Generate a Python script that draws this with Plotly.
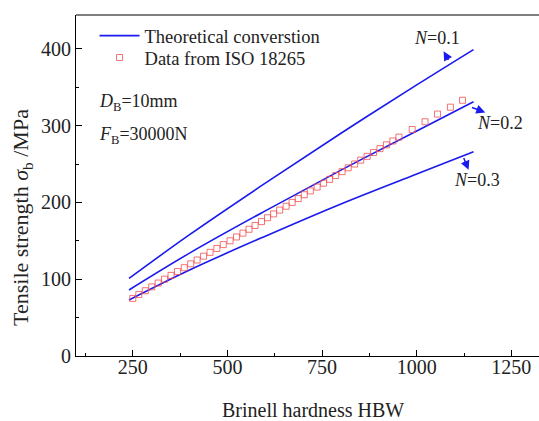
import plotly.graph_objects as go

# Theoretical conversion curves
theo_x = [240, 400, 600, 800, 1000, 1150]
n01_y = [101, 158, 225, 290, 353, 399]
n02_y = [86, 134, 189, 242, 293, 331]
n03_y = [73, 112, 156, 198, 237, 266]

# ISO 18265 data points
iso_hbw = [250, 266, 283, 300, 317, 334, 351, 368, 386, 403, 420, 437, 454, 472,
           489, 507, 524, 541, 557, 573, 590, 606, 622, 638, 655, 671, 687, 703,
           719, 737, 754, 770, 786, 803, 819, 836, 852, 869, 886, 903, 920, 937,
           953, 988, 1022, 1055, 1089, 1121]
iso_ts = [75, 80, 85, 90, 95, 100, 105, 110, 115, 120, 125, 130, 135, 140,
          145, 150, 155, 160, 165, 170, 175, 180, 185, 190, 195, 200, 205, 210,
          215, 220, 225, 230, 235, 240, 245, 250, 255, 260, 265, 270, 275, 280,
          285, 295, 305, 315, 324, 333]

x_ticks = [250, 500, 750, 1000, 1250]
y_ticks = [0, 100, 200, 300, 400]

FONT = "Liberation Serif"
BLUE = "#1a1aee"
RED = "rgba(240,80,80,0.8)"
TXT = "#222"

fig = go.Figure()
fig.add_trace(go.Scatter(x=theo_x, y=n01_y, mode="lines", line=dict(color=BLUE, width=1.6, shape="spline"),
                         name="Theoretical converstion", legend="legend"))
fig.add_trace(go.Scatter(x=theo_x, y=n02_y, mode="lines", line=dict(color=BLUE, width=1.6, shape="spline"),
                         showlegend=False))
fig.add_trace(go.Scatter(x=theo_x, y=n03_y, mode="lines", line=dict(color=BLUE, width=1.6, shape="spline"),
                         showlegend=False))
fig.add_trace(go.Scatter(x=iso_hbw, y=iso_ts, mode="markers",
                         marker=dict(symbol="square-open", size=6, color=RED, line=dict(width=1, color=RED)),
                         name="Data from ISO 18265", legend="legend2"))

# arrows (head points toward label)
arrows = [
    (1071, 396.7, 1086, 383.7),
    (1181, 317.2, 1142, 324.3),
    (1137, 242.5, 1122.5, 259.8),
]
for hx, hy, tx, ty in arrows:
    fig.add_annotation(x=hx, y=hy, ax=tx, ay=ty, xref="x", yref="y", axref="x", ayref="y",
                       text="", showarrow=True, arrowhead=2, arrowsize=1.2, arrowwidth=1.5,
                       arrowcolor=BLUE)

labels = [
    (1054, 414, "<i>N</i>=0.1"),
    (1221, 303.4, "<i>N</i>=0.2"),
    (1159, 229.5, "<i>N</i>=0.3"),
]
for lx, ly, t in labels:
    fig.add_annotation(x=lx, y=ly, xref="x", yref="y", text=t, showarrow=False,
                       font=dict(family=FONT, size=18, color=TXT))

fig.add_annotation(x=155, y=330, xref="x", yref="y", xanchor="left", text="<i>D</i><sub>B</sub>=10mm",
                   showarrow=False, font=dict(family=FONT, size=18, color=TXT))
fig.add_annotation(x=155, y=287, xref="x", yref="y", xanchor="left", text="<i>F</i><sub>B</sub>=30000N",
                   showarrow=False, font=dict(family=FONT, size=18, color=TXT))

# axis titles
fig.add_annotation(x=-0.1166, y=0.405, xref="paper", yref="paper", textangle=-90,
                   xanchor="center", yanchor="middle",
                   text="Tensile strength <i>σ</i><sub>b</sub> /MPa", showarrow=False,
                   font=dict(family=FONT, size=22, color=TXT))
fig.add_annotation(x=0.512, y=-0.158, xref="paper", yref="paper",
                   xanchor="center", yanchor="middle",
                   text="Brinell hardness HBW", showarrow=False,
                   font=dict(family=FONT, size=20, color=TXT))

# top frame line
fig.add_shape(type="line", xref="paper", yref="paper", x0=0, x1=1, y0=1, y1=1,
              line=dict(color="black", width=1.2))

legend_common = dict(xanchor="left", yanchor="middle", bgcolor="rgba(0,0,0,0)",
                     font=dict(family=FONT, size=18.5, color=TXT), itemwidth=40)
fig.update_layout(
    width=539, height=421,
    margin=dict(l=76, r=0, t=15, b=65),
    paper_bgcolor="white", plot_bgcolor="white",
    font=dict(family=FONT, size=20, color=TXT),
    legend=dict(x=0.04, y=0.938, **legend_common),
    legend2=dict(x=0.04, y=0.874, **legend_common),
    showlegend=True,
)
fig.update_xaxes(range=[100, 1323], tickvals=x_ticks, ticktext=[str(v) for v in x_ticks],
                 ticks="inside", ticklen=6, tickwidth=1, tickcolor="black",
                 minor=dict(dtick=125, tick0=0, ticks="inside", ticklen=3, tickcolor="black"),
                 showline=True, linecolor="black", linewidth=1.2, showgrid=False, zeroline=False,
                 ticklabelstandoff=-7,
                 tickfont=dict(family=FONT, size=20))
fig.update_yaxes(range=[0, 444], tickvals=y_ticks, ticktext=[str(v) for v in y_ticks],
                 ticks="inside", ticklen=6, tickwidth=1, tickcolor="black",
                 minor=dict(dtick=50, tick0=0, ticks="inside", ticklen=3, tickcolor="black"),
                 showline=True, linecolor="black", linewidth=1.2, showgrid=False, zeroline=False,
                 tickfont=dict(family=FONT, size=20))

fig.write_html("out.html")
